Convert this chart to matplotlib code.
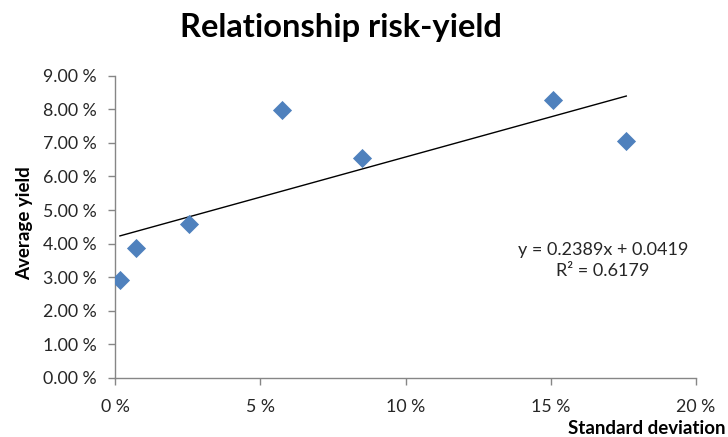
import matplotlib
matplotlib.use("Agg")
import matplotlib.pyplot as plt
from matplotlib.ticker import FuncFormatter, MultipleLocator

plt.rcParams['font.family'] = ['Lato', 'DejaVu Sans']

# Data (fractions)
std_dev = [0.0017, 0.0072, 0.0255, 0.0575, 0.0850, 0.1508, 0.1760]
avg_yield = [0.0292, 0.0387, 0.0458, 0.0798, 0.0655, 0.0827, 0.0705]
slope = 0.2389
intercept = 0.0419
r_squared = 0.6179

title = "Relationship risk-yield"
x_label = "Standard deviation"
y_label = "Average yield"

fig = plt.figure(figsize=(7.28, 4.37), dpi=100)
ax = fig.add_axes([115/728, 1-378/437, (696-115)/728, (378-75.7)/437])

ax.scatter(std_dev, avg_yield, marker='D', s=95, color='#4F81BD', zorder=3,
           linewidths=0)

x0, x1 = min(std_dev), max(std_dev)
ax.plot([x0, x1], [slope*x0 + intercept, slope*x1 + intercept],
        color='black', lw=1.0, zorder=2)

ax.set_xlim(0, 0.20)
ax.set_ylim(0, 0.09)
ax.xaxis.set_major_locator(MultipleLocator(0.05))
ax.yaxis.set_major_locator(MultipleLocator(0.01))
ax.xaxis.set_major_formatter(FuncFormatter(lambda v, p: f"{v*100:.0f} %"))
ax.yaxis.set_major_formatter(FuncFormatter(lambda v, p: f"{v*100:.2f} %"))

for s in ['top', 'right']:
    ax.spines[s].set_visible(False)
for s in ['left', 'bottom']:
    ax.spines[s].set_color('#868686')
    ax.spines[s].set_linewidth(1.0)
ax.tick_params(axis='both', direction='out', length=5, width=1.0,
               color='#868686', labelsize=12.8, labelcolor='#262626')
ax.tick_params(axis='y', pad=8)
ax.tick_params(axis='x', pad=10)

fig.text(341/728, 1-28/437, title, ha='center', va='center',
         fontsize=23.5, fontweight='bold', color='black')
fig.text(25/728, 1-223/437, y_label, ha='center', va='center', rotation=90,
         fontsize=13.5, fontweight='bold', color='black')
fig.text(725/728, 1-428/437, x_label, ha='right', va='center',
         fontsize=13.5, fontweight='bold', color='black')

ax.text(603/728, 1-250/437, f"y = {slope:.4f}x + {intercept:.4f}",
        transform=fig.transFigure, ha='center', va='center', fontsize=13,
        color='#262626')
ax.text(603/728, 1-271/437, f"R² = {r_squared:.4f}",
        transform=fig.transFigure, ha='center', va='center', fontsize=13,
        color='#262626')

fig.savefig("out.png", dpi=100)
